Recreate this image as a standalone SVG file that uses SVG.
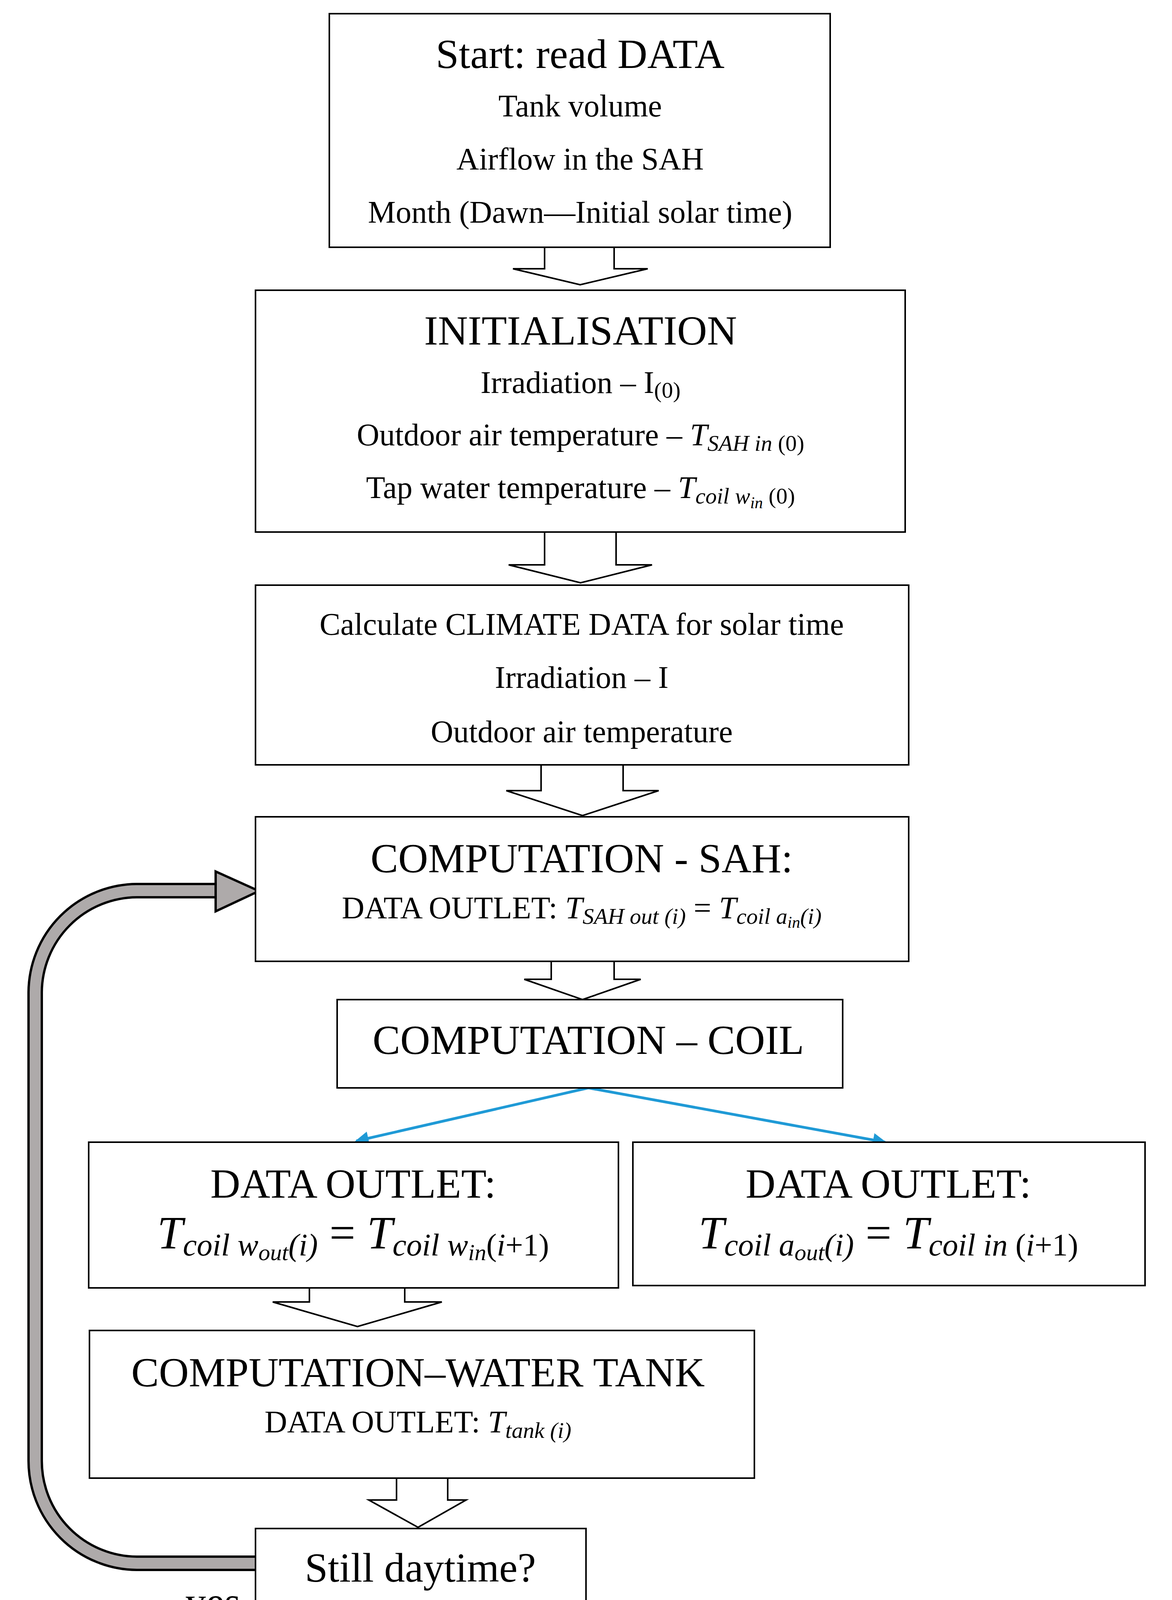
<svg xmlns="http://www.w3.org/2000/svg" width="3000" height="4520" viewBox="0 0 3000 4520">
<style>
.box{fill:#fff;stroke:#000;stroke-width:4}
.blk{fill:#fff;stroke:#000;stroke-width:4;stroke-linejoin:miter}
text{font-family:"Liberation Serif","DejaVu Serif",serif;fill:#000;text-anchor:middle}
.t1{font-size:106px}
.t2{font-size:80px}
.m{font-style:italic}
.s{font-size:58px}
.blue{stroke:#1f9ad6;stroke-width:7;fill:none}
</style>
<defs>
<marker id="ba" viewBox="0 0 10 10" refX="9" refY="5" markerWidth="5" markerHeight="5" orient="auto" markerUnits="strokeWidth"><path d="M0,0 L10,5 L0,10 z" fill="#1f9ad6"/></marker>
</defs>
<g id="connectors">
<polygon class="blk" points="1394,633 1394,688 1313,688 1485,729 1658,688 1572,688 1572,633"/>
<polygon class="blk" points="1394,1362 1394,1446 1302,1446 1486,1492 1669,1446 1577,1446 1577,1362"/>
<polygon class="blk" points="1385,1958 1385,2024 1296,2024 1491,2088 1686,2024 1595,2024 1595,1958"/>
<polygon class="blk" points="1411,2461 1411,2507 1342,2507 1491,2559 1640,2507 1572,2507 1572,2461"/>
<polygon class="blk" points="792,3297 792,3333 698,3333 915,3396 1131,3333 1036,3333 1036,3297"/>
<polygon class="blk" points="1015,3784 1015,3840 944,3840 1070,3910 1193,3840 1146,3840 1146,3784"/>
<line class="blue" x1="1506" y1="2785" x2="912" y2="2921" marker-end="url(#ba)"/>
<line class="blue" x1="1506" y1="2785" x2="2266" y2="2924" marker-end="url(#ba)"/>
<line class="blue" x1="1076" y1="4107" x2="1081" y2="4262" marker-end="url(#ba)"/>
<path d="M654,4002 H350 A262,262 0 0 1 90,3740 V2540 A262,262 0 0 1 350,2280 H556" fill="none" stroke="#000" stroke-width="40"/>
<path d="M656,4002 H350 A262,262 0 0 1 90,3740 V2540 A262,262 0 0 1 350,2280 H560" fill="none" stroke="#aeaaaa" stroke-width="28"/>
<polygon points="552,2231 663,2281 552,2333" fill="#aeaaaa" stroke="#000" stroke-width="6"/>
<text class="t1" x="545" y="4136">yes</text>
<text class="t1" x="1176" y="4231">no</text>
</g>
<g id="n1"><rect class="box" x="843" y="35" width="1282" height="598"/>
<text class="t1" x="1485" y="174">Start: read DATA</text>
<text class="t2" x="1485" y="298">Tank volume</text>
<text class="t2" x="1485" y="434">Airflow in the SAH</text>
<text class="t2" x="1485" y="570">Month (Dawn—Initial solar time)</text></g>
<g id="n2"><rect class="box" x="654" y="743" width="1663" height="619"/>
<text class="t1" x="1486" y="882">INITIALISATION</text>
<text class="t2" x="1486" y="1006">Irradiation – I<tspan class="s" dy="12">(0)</tspan></text>
<text class="t2" x="1486" y="1140">Outdoor air temperature –  <tspan class="m">T</tspan><tspan class="s m" dy="14">SAH in</tspan><tspan class="s"> (0)</tspan></text>
<text class="t2" x="1486" y="1275">Tap water temperature –  <tspan class="m">T</tspan><tspan class="s m" dy="14">coil w</tspan><tspan class="m" style="font-size:42px" dy="12">in</tspan><tspan class="s" dy="-12">  (0)</tspan></text></g>
<g id="n3"><rect class="box" x="654" y="1498" width="1672" height="460"/>
<text class="t2" x="1489" y="1625">Calculate CLIMATE DATA for solar time</text>
<text class="t2" x="1489" y="1761">Irradiation – I</text>
<text class="t2" x="1489" y="1900">Outdoor air temperature</text></g>
<g id="n4"><rect class="box" x="654" y="2091" width="1672" height="370"/>
<text class="t1" x="1489" y="2233">COMPUTATION - SAH:</text>
<text class="t2" x="1489" y="2351">DATA OUTLET:  <tspan class="m">T</tspan><tspan class="s m" dy="14">SAH out (i)</tspan><tspan dy="-14">  =  </tspan><tspan class="m">T</tspan><tspan class="s m" dy="14">coil a</tspan><tspan class="m" style="font-size:42px" dy="10">in</tspan><tspan class="s m" dy="-10">(i)</tspan></text></g>
<g id="n5"><rect class="box" x="863" y="2559" width="1294" height="226"/>
<text class="t1" x="1506" y="2698">COMPUTATION – COIL</text></g>
<g id="n6"><rect class="box" x="227" y="2924" width="1356" height="373"/>
<text class="t1" x="904" y="3066">DATA OUTLET:</text>
<text class="t1" x="904" y="3196" style="font-size:118px"><tspan class="m">T</tspan><tspan class="m" style="font-size:80px" dy="18">coil w</tspan><tspan class="m" style="font-size:60px" dy="12">out</tspan><tspan class="m" style="font-size:80px" dy="-12">(i)</tspan><tspan dy="-18"> = </tspan><tspan class="m">T</tspan><tspan class="m" style="font-size:80px" dy="18">coil w</tspan><tspan class="m" style="font-size:60px" dy="12">in</tspan><tspan style="font-size:80px" dy="-12">(<tspan class="m">i</tspan>+1)</tspan></text></g>
<g id="n7"><rect class="box" x="1620" y="2924" width="1311" height="367"/>
<text class="t1" x="2274" y="3066">DATA OUTLET:</text>
<text class="t1" x="2274" y="3196" style="font-size:118px"><tspan class="m">T</tspan><tspan class="m" style="font-size:80px" dy="18">coil a</tspan><tspan class="m" style="font-size:60px" dy="12">out</tspan><tspan class="m" style="font-size:80px" dy="-12">(i)</tspan><tspan dy="-18"> = </tspan><tspan class="m">T</tspan><tspan class="m" style="font-size:80px" dy="18">coil in </tspan><tspan style="font-size:80px">(<tspan class="m">i</tspan>+1)</tspan></text></g>
<g id="n8"><rect class="box" x="229" y="3406" width="1702" height="378"/>
<text class="t1" x="1070" y="3549">COMPUTATION–WATER TANK</text>
<text class="t2" x="1070" y="3667">DATA OUTLET:  <tspan class="m">T</tspan><tspan class="s m" dy="14">tank (i)</tspan></text></g>
<g id="n9"><rect class="box" x="654" y="3913" width="846" height="194"/>
<text class="t1" x="1076" y="4049">Still daytime?</text></g>
<g id="n10"><rect class="box" x="900" y="4280" width="402" height="203"/>
<text class="t1" x="1101" y="4416">END</text></g>
</svg>
